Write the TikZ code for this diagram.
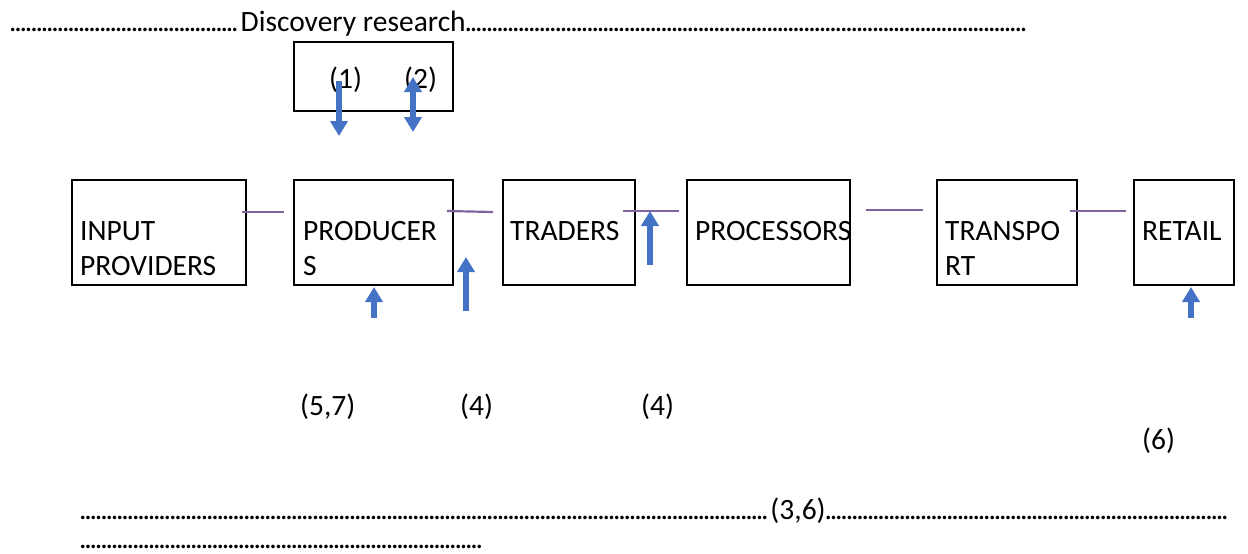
\documentclass[tikz,border=0pt]{standalone}
\usepackage{fontspec}
\setmainfont{Carlito}
\usetikzlibrary{arrows.meta}
\definecolor{arrowblue}{RGB}{68,114,196}
\definecolor{linkpurple}{RGB}{128,100,162}
\newcommand\dotrun[1]{\makebox[#1]{\leaders\hbox to 5.3pt{\hss.\hss}\hfill}}
\begin{document}
\begin{tikzpicture}[x=1pt,y=-1pt,
  box/.style={draw=black,line width=2pt,inner sep=0pt},
  txt/.style={anchor=base west,inner sep=0pt,font=\fontsize{29.5}{35}\selectfont},
  link/.style={draw=linkpurple,line width=2.2pt},
  uparrow/.style={draw=arrowblue,line width=5.5pt,-{Triangle[width=17pt,length=15pt]}},
  bothways/.style={draw=arrowblue,line width=5.5pt,{Triangle[width=17pt,length=15pt]}-{Triangle[width=17pt,length=15pt]}}]
\useasboundingbox (0,0) rectangle (1248,554);
% boxes
\node[box,minimum width=159pt,minimum height=69pt] (disc) at (373.5,76.5) {};
\node[box,minimum width=174pt,minimum height=105pt] (inp) at (159,232.5) {};
\node[box,minimum width=159pt,minimum height=105pt] (prod) at (373.5,232.5) {};
\node[box,minimum width=132pt,minimum height=105pt] (trad) at (568.5,232.5) {};
\node[box,minimum width=163pt,minimum height=105pt] (proc) at (768.5,232.5) {};
\node[box,minimum width=140pt,minimum height=105pt] (trans) at (1007,232.5) {};
\node[box,minimum width=100pt,minimum height=105pt] (ret) at (1184,232.5) {};
% box texts
\node[txt] (t1a) at (80,240) {INPUT};
\node[txt] (t1b) at (80,275) {PROVIDERS};
\node[txt] (t2a) at (303,240) {PRODUCER};
\node[txt] (t2b) at (303,275) {S};
\node[txt] (t3) at (510,240) {TRADERS};
\node[txt] (t4) at (695,240) {PROCESSORS};
\node[txt] (t5a) at (945,240) {TRANSPO};
\node[txt] (t5b) at (945,275) {RT};
\node[txt] (t6) at (1142,240) {RETAIL};
% top and bottom dotted text
\node[txt] (top) at (10,31) {\dotrun{231pt}Discovery research\dotrun{566pt}};
\node[txt] (bot1) at (80,519) {\dotrun{692pt}(3,6)\dotrun{406pt}};
\node[txt] (bot2) at (80,548) {\dotrun{404pt}};
% labels
\node[txt] (l1) at (329,88) {(1)};
\node[txt] (l2) at (404,88) {(2)};
\node[txt] (l57) at (300,415) {(5,7)};
\node[txt] (l4a) at (460,415) {(4)};
\node[txt] (l4b) at (641,415) {(4)};
\node[txt] (l6) at (1142,449) {(6)};
% purple links
\coordinate (p1a) at (242,212); \coordinate (p1b) at (284,212);
\coordinate (p2a) at (447,211); \coordinate (p2b) at (493,212);
\coordinate (p3a) at (623,211); \coordinate (p3b) at (679,211);
\coordinate (p4a) at (866,210); \coordinate (p4b) at (923,210);
\coordinate (p5a) at (1070,211); \coordinate (p5b) at (1126,211);
\draw[link] (p1a) -- (p1b);
\draw[link] (p2a) -- (p2b);
\draw[link] (p3a) -- (p3b);
\draw[link] (p4a) -- (p4b);
\draw[link] (p5a) -- (p5b);
% blue arrows
\coordinate (a1s) at (339,81); \coordinate (a1e) at (339,136);
\coordinate (a2s) at (413,77); \coordinate (a2e) at (413,132);
\coordinate (a3s) at (374,318); \coordinate (a3e) at (374,287);
\coordinate (a4s) at (466,311); \coordinate (a4e) at (466,257);
\coordinate (a5s) at (650,265); \coordinate (a5e) at (650,211);
\coordinate (a6s) at (1191,318); \coordinate (a6e) at (1191,287);
\draw[uparrow] (a1s) -- (a1e);
\draw[bothways] (a2s) -- (a2e);
\draw[uparrow] (a3s) -- (a3e);
\draw[uparrow] (a4s) -- (a4e);
\draw[uparrow] (a5s) -- (a5e);
\draw[uparrow] (a6s) -- (a6e);
\end{tikzpicture}
\end{document}
